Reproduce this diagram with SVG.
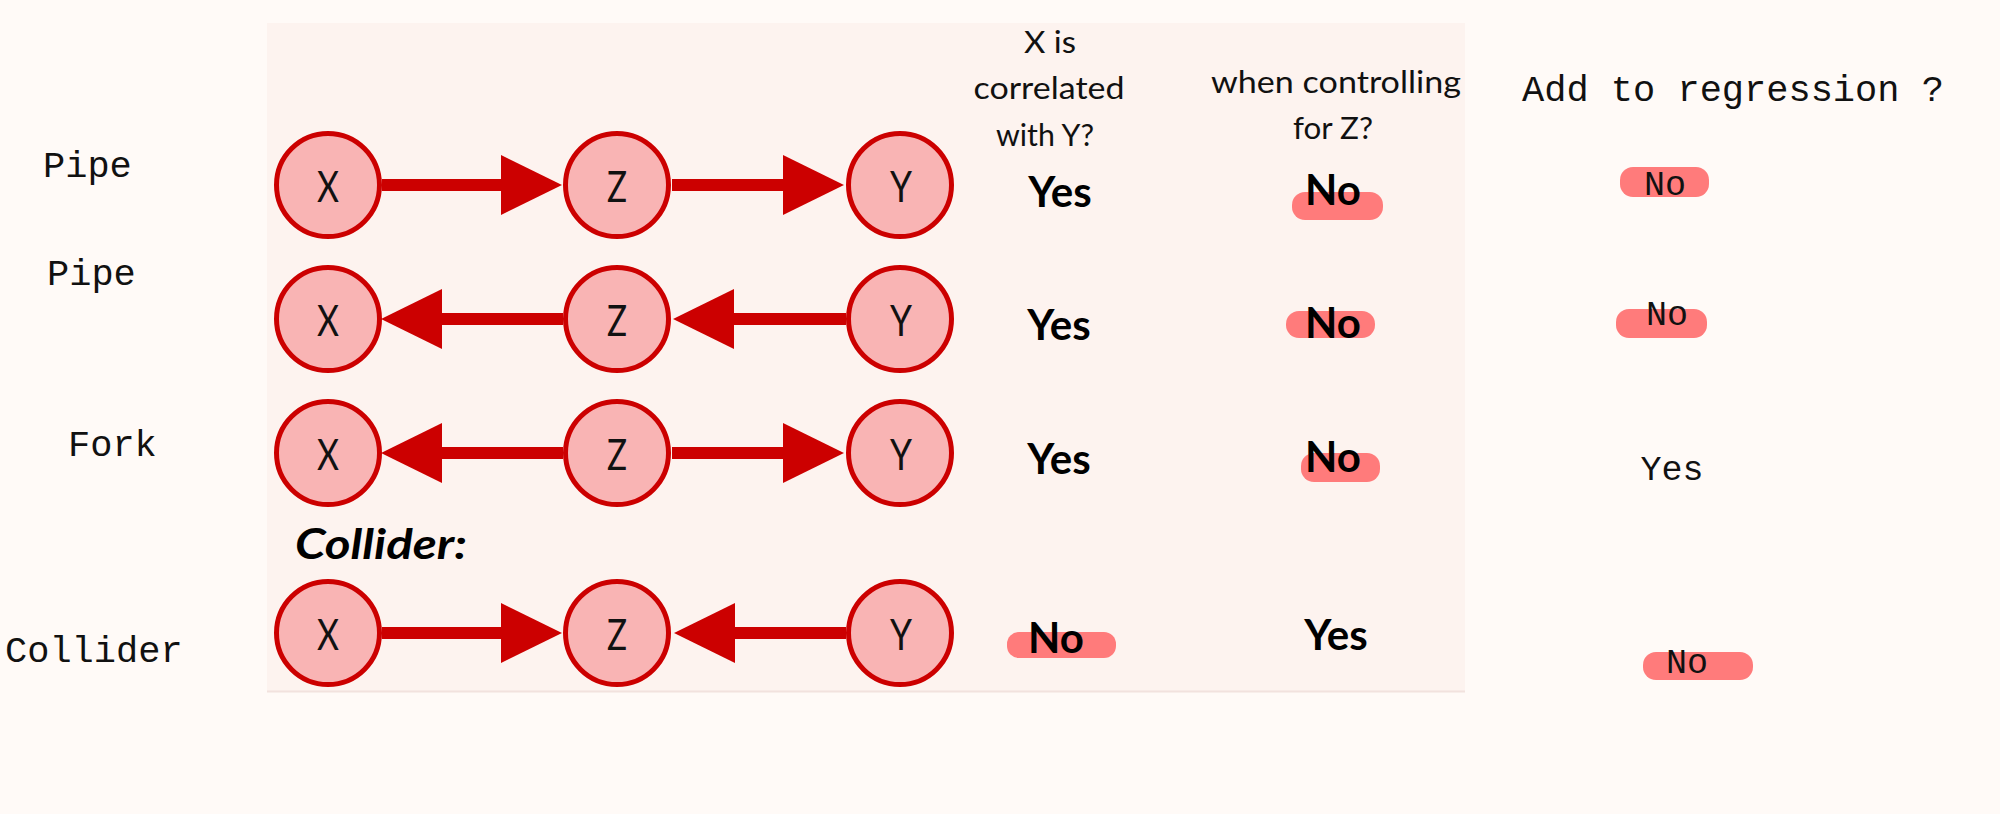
<svg xmlns="http://www.w3.org/2000/svg" width="2000" height="814" viewBox="0 0 2000 814">
  <style>
    .node circle { fill: #f9b4b4; stroke: #cc0000; stroke-width: 5; }
    .node text { font-family: Lato, "Liberation Sans", sans-serif; font-size: 42px; fill: #111; text-anchor: middle; }
    .edge { stroke: #cc0000; stroke-width: 12; fill: none; marker-end: url(#head); }
    .hdr { font-family: Lato, "Liberation Sans", sans-serif; font-size: 31px; fill: #111; text-anchor: middle; }
    .val { font-family: Lato, "Liberation Sans", sans-serif; font-size: 42px; font-weight: 700; fill: #000; text-anchor: middle; }
    .mono { font-family: "Liberation Mono", "Courier New", monospace; font-size: 37px; fill: #111; }
    .monov { font-family: "Liberation Mono", "Courier New", monospace; font-size: 35px; fill: #111; text-anchor: middle; }
    .hl { fill: #ff7b7b; }
  </style>
  <defs>
    <marker id="head" markerUnits="userSpaceOnUse" markerWidth="62" markerHeight="62" viewBox="0 0 62 62" refX="1" refY="31" orient="auto">
      <path d="M0,1 L61,31 L0,61 Z" fill="#cc0000"/>
    </marker>
  </defs>

  <rect x="0" y="0" width="2000" height="814" fill="#fffaf7"/>
  <rect x="267" y="23" width="1198" height="669" fill="#fdf3ef"/>
  <line x1="267" y1="691.5" x2="1465" y2="691.5" stroke="#f2e2de" stroke-width="2"/>

  <g id="row-labels">
    <text class="mono" x="43" y="177">Pipe</text>
    <text class="mono" x="47" y="285">Pipe</text>
    <text class="mono" x="68" y="456">Fork</text>
    <text class="mono" x="5" y="662">Collider</text>
  </g>

  <g id="headers">
    <text class="hdr" x="1050" y="53" textLength="52" lengthAdjust="spacingAndGlyphs">X is</text>
    <text class="hdr" x="1049" y="99" textLength="151" lengthAdjust="spacingAndGlyphs">correlated</text>
    <text class="hdr" x="1045" y="146" textLength="98" lengthAdjust="spacingAndGlyphs">with Y?</text>
    <text class="hdr" x="1336" y="93" textLength="250" lengthAdjust="spacingAndGlyphs">when controlling</text>
    <text class="hdr" x="1333" y="139" textLength="80" lengthAdjust="spacingAndGlyphs">for Z?</text>
    <text class="mono" x="1522" y="101">Add to regression ?</text>
  </g>

  <g id="collider-title">
    <text x="295" y="559" font-family="Lato, 'Liberation Sans', sans-serif" font-size="42" font-weight="700" font-style="italic" fill="#000" textLength="172" lengthAdjust="spacingAndGlyphs">Collider:</text>
  </g>

  <g id="connectors">
    <line class="edge" x1="382" y1="185" x2="502" y2="185"/>
    <line class="edge" x1="672" y1="185" x2="784" y2="185"/>
    <line class="edge" x1="563" y1="319" x2="441" y2="319"/>
    <line class="edge" x1="846" y1="319" x2="733" y2="319"/>
    <line class="edge" x1="563" y1="453" x2="441" y2="453"/>
    <line class="edge" x1="672" y1="453" x2="784" y2="453"/>
    <line class="edge" x1="382" y1="633" x2="502" y2="633"/>
    <line class="edge" x1="846" y1="633" x2="734" y2="633"/>
  </g>

  <g id="r1-x" class="node"><circle cx="328" cy="185" r="51.5"/><text x="328" y="202" textLength="22" lengthAdjust="spacingAndGlyphs">X</text></g>
  <g id="r1-z" class="node"><circle cx="617" cy="185" r="51.5"/><text x="617" y="202" textLength="20" lengthAdjust="spacingAndGlyphs">Z</text></g>
  <g id="r1-y" class="node"><circle cx="900" cy="185" r="51.5"/><text x="901" y="202" textLength="22" lengthAdjust="spacingAndGlyphs">Y</text></g>

  <g id="r2-x" class="node"><circle cx="328" cy="319" r="51.5"/><text x="328" y="336" textLength="22" lengthAdjust="spacingAndGlyphs">X</text></g>
  <g id="r2-z" class="node"><circle cx="617" cy="319" r="51.5"/><text x="617" y="336" textLength="20" lengthAdjust="spacingAndGlyphs">Z</text></g>
  <g id="r2-y" class="node"><circle cx="900" cy="319" r="51.5"/><text x="901" y="336" textLength="22" lengthAdjust="spacingAndGlyphs">Y</text></g>

  <g id="r3-x" class="node"><circle cx="328" cy="453" r="51.5"/><text x="328" y="470" textLength="22" lengthAdjust="spacingAndGlyphs">X</text></g>
  <g id="r3-z" class="node"><circle cx="617" cy="453" r="51.5"/><text x="617" y="470" textLength="20" lengthAdjust="spacingAndGlyphs">Z</text></g>
  <g id="r3-y" class="node"><circle cx="900" cy="453" r="51.5"/><text x="901" y="470" textLength="22" lengthAdjust="spacingAndGlyphs">Y</text></g>

  <g id="r4-x" class="node"><circle cx="328" cy="633" r="51.5"/><text x="328" y="650" textLength="22" lengthAdjust="spacingAndGlyphs">X</text></g>
  <g id="r4-z" class="node"><circle cx="617" cy="633" r="51.5"/><text x="617" y="650" textLength="20" lengthAdjust="spacingAndGlyphs">Z</text></g>
  <g id="r4-y" class="node"><circle cx="900" cy="633" r="51.5"/><text x="901" y="650" textLength="22" lengthAdjust="spacingAndGlyphs">Y</text></g>

  <g id="highlights">
    <rect class="hl" x="1292" y="192" width="91" height="28" rx="13"/>
    <rect class="hl" x="1286" y="311" width="89" height="27" rx="13"/>
    <rect class="hl" x="1301" y="453" width="79" height="29" rx="13"/>
    <rect class="hl" x="1007" y="632" width="109" height="26" rx="12"/>
    <rect class="hl" x="1620" y="167" width="89" height="30" rx="13"/>
    <rect class="hl" x="1616" y="309" width="91" height="29" rx="13"/>
    <rect class="hl" x="1643" y="652" width="110" height="28" rx="13"/>
  </g>

  <g id="col-correlated">
    <text class="val" x="1060" y="207">Yes</text>
    <text class="val" x="1059" y="340">Yes</text>
    <text class="val" x="1059" y="474">Yes</text>
    <text class="val" x="1056" y="653">No</text>
  </g>

  <g id="col-controlling">
    <text class="val" x="1333" y="205">No</text>
    <text class="val" x="1333" y="338">No</text>
    <text class="val" x="1333" y="472">No</text>
    <text class="val" x="1336" y="650">Yes</text>
  </g>

  <g id="col-regression">
    <text class="monov" x="1665" y="195">No</text>
    <text class="monov" x="1667" y="325">No</text>
    <text class="monov" x="1672" y="480">Yes</text>
    <text class="monov" x="1687" y="673">No</text>
  </g>
</svg>
